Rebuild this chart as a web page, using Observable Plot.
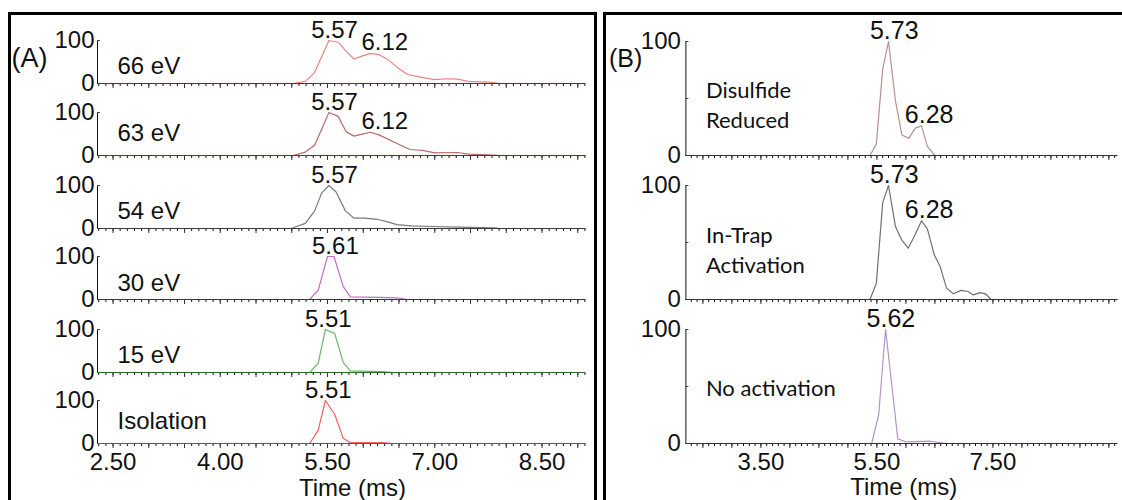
<!DOCTYPE html>
<html><head><meta charset="utf-8">
<script src="https://cdn.jsdelivr.net/npm/d3@7"></script>
<script src="https://cdn.jsdelivr.net/npm/@observablehq/plot@0.6"></script>
<style>
html,body{margin:0;padding:0;background:#fff;}
#chart{position:relative;width:1122px;height:500px;overflow:hidden;background:#fff;}
#chart svg{position:absolute;}
.frame{position:absolute;border:3px solid #000;box-sizing:border-box;}
</style></head><body><div id="chart"></div>
<script>
// ---------- data (time in ms, relative intensity %) ----------
const xDomainLeft = [2.283, 9.108];
const xDomainRight = [2.207, 9.648];
const xLabelsLeft = [2.5, 4.0, 5.5, 7.0, 8.5];
const xLabelsRight = [3.5, 5.5, 7.5];
const yTicks = [0, 100];

const ev66 = [[5.02,0],[5.19,5],[5.32,26],[5.52,100],[5.65,96],[5.75,77],[5.87,57],[5.97,63],[6.10,70],[6.22,67],[6.35,55],[6.47,38],[6.62,21],[6.80,15],[7.00,9],[7.17,11],[7.32,10],[7.47,5],[7.77,3],[7.92,0]];
const ev63 = [[5.02,0],[5.19,8],[5.32,24],[5.52,100],[5.65,91],[5.76,55],[5.87,45],[5.97,49],[6.10,54],[6.22,48],[6.42,32],[6.65,14],[6.83,12],[7.00,6],[7.32,7],[7.47,3],[7.83,1],[7.92,0]];
const ev54 = [[4.99,0],[5.19,12],[5.32,41],[5.42,83],[5.52,100],[5.62,85],[5.75,41],[5.87,24],[6.02,24],[6.20,21],[6.33,16],[6.47,9],[6.67,6],[6.97,4.6],[7.32,3],[7.83,1.5],[7.92,0]];
const ev30 = [[5.25,0],[5.37,22],[5.50,100],[5.59,100],[5.72,30],[5.82,6],[6.22,5],[6.47,4],[6.62,0]];
const ev15 = [[5.25,0],[5.37,22],[5.47,100],[5.60,91],[5.72,23],[5.82,4],[6.27,2],[6.42,0]];
const isolation = [[5.25,0],[5.37,31],[5.47,100],[5.60,68],[5.72,12],[5.82,2],[6.27,2],[6.42,0]];

const disulfide = [[5.38,0],[5.49,10],[5.60,76],[5.70,100],[5.82,48],[5.93,18],[6.05,15],[6.16,24],[6.27,26],[6.37,8],[6.50,0]];
const inTrap = [[5.38,0],[5.49,14],[5.60,85],[5.70,100],[5.82,64],[5.93,52],[6.04,45],[6.15,56],[6.27,69],[6.37,62],[6.49,39],[6.59,29],[6.70,10],[6.82,5],[6.95,8],[7.07,7],[7.16,4],[7.28,6],[7.37,5],[7.47,0]];
const noActivation = [[5.41,0],[5.53,25],[5.65,100],[5.86,4],[6.00,1.5],[6.42,2],[6.69,0]];

// peak annotations: [time label, intensity at peak]
const peaks66 = [[5.57,100],[6.12,70]];
const peaks63 = [[5.57,100],[6.12,54]];
const peaks54 = [[5.57,100]];
const peaks30 = [[5.61,100]];
const peaks15 = [[5.51,100]];
const peaksIso = [[5.51,100]];
const peaksDis = [[5.73,100],[6.28,26]];
const peaksTrap = [[5.73,100],[6.28,69]];
const peaksNo = [[5.62,100]];

const namesLeft = ["66 eV","63 eV","54 eV","30 eV","15 eV","Isolation"];
const namesRight = ["Disulfide\nReduced","In-Trap\nActivation","No activation"];

// ---------- layout / style ----------
const chart = document.getElementById("chart");
function frame(l,t,w,h){const d=document.createElement("div");d.className="frame";Object.assign(d.style,{left:l+"px",top:t+"px",width:w+"px",height:h+"px"});chart.appendChild(d);}
frame(8,12,589,600);
frame(603,12,600,600);
function place(svg,l,t){svg.style.left=l+"px";svg.style.top=t+"px";chart.appendChild(svg);}

const baseStyle = "background:transparent;overflow:visible;font-family:'Liberation Sans',Arial,sans-serif;font-size:24px;color:#111;";
const fmt2 = d3.format(".2f");
const isLabel = (d, arr) => arr.some(a => Math.abs(a - d) < 1e-6);
const minorLeft = d3.range(23, 92).map(i => i / 10);
const majorLeft = d3.range(5, 19).map(i => i / 2);
const minorRight = d3.range(23, 97).map(i => i / 10);
const majorRight = d3.range(5, 20).map(i => i / 2);
const nudge = {"6.12": 13, "5.73": 4, "6.28": 7, "5.62": 7, "5.57": 2};

const leftPanels = [
  {data: ev66, color: "#f08080", base: "#8b1a1a", peaks: peaks66, nameDy: -10},
  {data: ev63, color: "#b86a6a", base: "#6b2a2a", peaks: peaks63, nameDy: -15},
  {data: ev54, color: "#7a7a7a", base: "#3a3a3a", peaks: peaks54, nameDy: -10},
  {data: ev30, color: "#c46ac4", base: "#5a2060", peaks: peaks30, nameDy: -9},
  {data: ev15, color: "#66b866", base: "#2a6a2a", peaks: peaks15, nameDy: -10},
  {data: isolation, color: "#f06060", base: "#c03030", peaks: peaksIso, nameDy: -15}
];
const leftBases = [83,155,228,299,372,443];
const HL = 43;

function peakMarks(peaks, fs) {
  return peaks.map(p => Plot.text([p], {x: d => d[0], y: d => d[1], text: d => fmt2(d[0]),
    dx: nudge[fmt2(p[0])] ?? 0, dy: -3, lineAnchor: "bottom", fontSize: fs}));
}
// small inward ticks on the intensity axis
function yTickMarks(dom, pxPerMs, vals) {
  return Plot.ruleY(vals, {y: d => d, x1: dom[0], x2: dom[0] + 3 / pxPerMs, stroke: "#444", strokeWidth: 1});
}

leftPanels.forEach((p, i) => {
  const isBottom = i === leftPanels.length - 1;
  const mt = 45, mb = isBottom ? 65 : 15;
  const majorLen = 5 / HL * 100;
  const series = [[xDomainLeft[0], 0], ...p.data, [xDomainLeft[1], 0]];
  const marks = [
    Plot.ruleX(majorLeft, {x: d => d, y1: 0, y2: -majorLen, stroke: "#333"}),
    yTickMarks(xDomainLeft, 71.5, [100]),
    Plot.line(series, {x: d => d[0], y: d => d[1], stroke: p.color, strokeWidth: 1.2}),
    Plot.ruleY([0], {stroke: p.base, strokeWidth: 1.2}),
    ...peakMarks(p.peaks, 24),
    Plot.text([namesLeft[i]], {frameAnchor: "bottom-left", dx: 20, dy: p.nameDy, textAnchor: "start", lineAnchor: "bottom"})
  ];
  if (i === 0) marks.push(Plot.text(["(A)"], {frameAnchor: "top-left", dx: -86, dy: 26, textAnchor: "start", lineAnchor: "bottom", fontSize: 27}));
  if (isBottom) marks.push(Plot.text(["Time (ms)"], {frameAnchor: "bottom", dx: 11, dy: 45, lineAnchor: "middle", fontSize: 24}));
  const svg = Plot.plot({
    width: 600, height: mt + HL + mb,
    marginLeft: 97, marginRight: 15, marginTop: mt, marginBottom: mb,
    style: baseStyle,
    x: {domain: xDomainLeft, ticks: minorLeft, tickSize: 3, tickPadding: 6, line: true, label: null,
        tickFormat: d => (isBottom && isLabel(d, xLabelsLeft)) ? fmt2(d) : ""},
    y: {domain: [0, 100], ticks: yTicks, tickSize: 0, tickPadding: 3, line: true, label: null},
    marks
  });
  place(svg, 0, leftBases[i] - HL - mt);
});

const rightPanels = [
  {data: disulfide, color: "#b89090", peaks: peaksDis, nameDy: 35},
  {data: inTrap, color: "#707070", peaks: peaksTrap, nameDy: 36},
  {data: noActivation, color: "#b494c8", peaks: peaksNo, nameDy: 45}
];
const rightTops = [41,185,329];
const HR = 114;

rightPanels.forEach((p, i) => {
  const isBottom = i === rightPanels.length - 1;
  const mt = 45, mb = isBottom ? 65 : 15;
  const majorLen = 5 / HR * 100;
  const series = [[xDomainRight[0], 0], ...p.data, [xDomainRight[1], 0]];
  const marks = [
    Plot.ruleX(majorRight, {x: d => d, y1: 0, y2: -majorLen, stroke: "#333"}),
    yTickMarks(xDomainRight, 58, [50, 100]),
    Plot.line(series, {x: d => d[0], y: d => d[1], stroke: p.color, strokeWidth: 1.2}),
    Plot.ruleY([0], {stroke: "#333", strokeWidth: 1.2}),
    ...peakMarks(p.peaks, 25),
    Plot.text([namesRight[i]], {frameAnchor: "top-left", dx: 20, dy: p.nameDy, textAnchor: "start", lineAnchor: "top", lineHeight: 1.36, fontSize: 22, fontFamily: "Lato, 'Open Sans', sans-serif"})
  ];
  if (i === 0) marks.push(Plot.text(["(B)"], {frameAnchor: "top-left", dx: -77, dy: 25, textAnchor: "start", lineAnchor: "bottom", fontSize: 25}));
  if (isBottom) marks.push(Plot.text(["Time (ms)"], {frameAnchor: "bottom", dx: 2, dy: 44, lineAnchor: "middle", fontSize: 24}));
  const svg = Plot.plot({
    width: 522, height: mt + HR + mb,
    marginLeft: 85.4, marginRight: 5, marginTop: mt, marginBottom: mb,
    style: baseStyle,
    x: {domain: xDomainRight, ticks: minorRight, tickSize: 3, tickPadding: 6, line: true, label: null,
        tickFormat: d => (isBottom && isLabel(d, xLabelsRight)) ? fmt2(d) : ""},
    y: {domain: [0, 100], ticks: yTicks, tickSize: 0, tickPadding: 5, line: true, label: null},
    marks
  });
  place(svg, 600, rightTops[i] - mt);
});
</script></body></html>
